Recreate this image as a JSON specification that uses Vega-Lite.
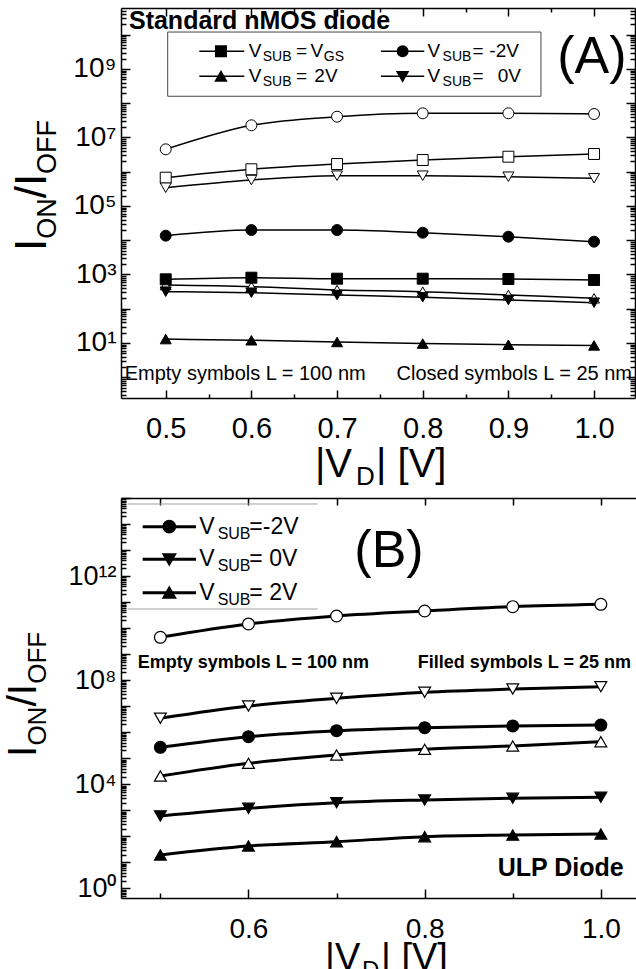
{
  "$schema": "https://vega.github.io/schema/vega-lite/v6.json",
  "padding": {"left": 2, "top": 7, "right": 0, "bottom": 0},
  "bounds": "flush",
  "spacing": 100,
  "config": {
    "view": {"stroke": null},
    "font": "Liberation Sans",
    "axis": {"grid": false, "domainColor": "black", "domainWidth": 1.5, "tickColor": "black", "tickWidth": 1.5, "labelColor": "black", "labelFont": "Liberation Sans", "labelFlush": false, "labelOverlap": false, "zindex": 1}
  },
  "datasets": {
    "pts": [
      {"p":"A","L":"100","vsub":"-2V","vd":0.5,"r":4.52e6},{"p":"A","L":"100","vsub":"-2V","vd":0.6,"r":2.27e7},{"p":"A","L":"100","vsub":"-2V","vd":0.7,"r":4.05e7},{"p":"A","L":"100","vsub":"-2V","vd":0.8,"r":5.09e7},{"p":"A","L":"100","vsub":"-2V","vd":0.9,"r":5.09e7},{"p":"A","L":"100","vsub":"-2V","vd":1.0,"r":4.85e7},
      {"p":"A","L":"100","vsub":"VGS","vd":0.5,"r":6.7e5},{"p":"A","L":"100","vsub":"VGS","vd":0.6,"r":1.18e6},{"p":"A","L":"100","vsub":"VGS","vd":0.7,"r":1.68e6},{"p":"A","L":"100","vsub":"VGS","vd":0.8,"r":2.2e6},{"p":"A","L":"100","vsub":"VGS","vd":0.9,"r":2.75e6},{"p":"A","L":"100","vsub":"VGS","vd":1.0,"r":3.3e6},
      {"p":"A","L":"100","vsub":"0V","vd":0.5,"r":3.42e5},{"p":"A","L":"100","vsub":"0V","vd":0.6,"r":5.74e5},{"p":"A","L":"100","vsub":"0V","vd":0.7,"r":7.67e5},{"p":"A","L":"100","vsub":"0V","vd":0.8,"r":7.67e5},{"p":"A","L":"100","vsub":"0V","vd":0.9,"r":7.16e5},{"p":"A","L":"100","vsub":"0V","vd":1.0,"r":6.44e5},
      {"p":"A","L":"100","vsub":"2V","vd":0.5,"r":493},{"p":"A","L":"100","vsub":"2V","vd":0.6,"r":441},{"p":"A","L":"100","vsub":"2V","vd":0.7,"r":352},{"p":"A","L":"100","vsub":"2V","vd":0.8,"r":315},{"p":"A","L":"100","vsub":"2V","vd":0.9,"r":252},{"p":"A","L":"100","vsub":"2V","vd":1.0,"r":202},
      {"p":"A","L":"25","vsub":"-2V","vd":0.5,"r":1.36e4},{"p":"A","L":"25","vsub":"-2V","vd":0.6,"r":1.99e4},{"p":"A","L":"25","vsub":"-2V","vd":0.7,"r":1.99e4},{"p":"A","L":"25","vsub":"-2V","vd":0.8,"r":1.66e4},{"p":"A","L":"25","vsub":"-2V","vd":0.9,"r":1.27e4},{"p":"A","L":"25","vsub":"-2V","vd":1.0,"r":9.08e3},
      {"p":"A","L":"25","vsub":"VGS","vd":0.5,"r":724},{"p":"A","L":"25","vsub":"VGS","vd":0.6,"r":807},{"p":"A","L":"25","vsub":"VGS","vd":0.7,"r":754},{"p":"A","L":"25","vsub":"VGS","vd":0.8,"r":754},{"p":"A","L":"25","vsub":"VGS","vd":0.9,"r":739},{"p":"A","L":"25","vsub":"VGS","vd":1.0,"r":690},
      {"p":"A","L":"25","vsub":"0V","vd":0.5,"r":315},{"p":"A","L":"25","vsub":"0V","vd":0.6,"r":294},{"p":"A","L":"25","vsub":"0V","vd":0.7,"r":252},{"p":"A","L":"25","vsub":"0V","vd":0.8,"r":216},{"p":"A","L":"25","vsub":"0V","vd":0.9,"r":180},{"p":"A","L":"25","vsub":"0V","vd":1.0,"r":150},
      {"p":"A","L":"25","vsub":"2V","vd":0.5,"r":13},{"p":"A","L":"25","vsub":"2V","vd":0.6,"r":12},{"p":"A","L":"25","vsub":"2V","vd":0.7,"r":10.7},{"p":"A","L":"25","vsub":"2V","vd":0.8,"r":9.6},{"p":"A","L":"25","vsub":"2V","vd":0.9,"r":8.9},{"p":"A","L":"25","vsub":"2V","vd":1.0,"r":8.5},
      {"p":"B","L":"100","vsub":"-2V","vd":0.5,"r":4.46e9},{"p":"B","L":"100","vsub":"-2V","vd":0.6,"r":1.45e10},{"p":"B","L":"100","vsub":"-2V","vd":0.7,"r":2.93e10},{"p":"B","L":"100","vsub":"-2V","vd":0.8,"r":4.56e10},{"p":"B","L":"100","vsub":"-2V","vd":0.9,"r":6.68e10},{"p":"B","L":"100","vsub":"-2V","vd":1.0,"r":8.26e10},
      {"p":"B","L":"100","vsub":"0V","vd":0.5,"r":3.45e6},{"p":"B","L":"100","vsub":"0V","vd":0.6,"r":1.02e7},{"p":"B","L":"100","vsub":"0V","vd":0.7,"r":2.02e7},{"p":"B","L":"100","vsub":"0V","vd":0.8,"r":3.44e7},{"p":"B","L":"100","vsub":"0V","vd":0.9,"r":4.6e7},{"p":"B","L":"100","vsub":"0V","vd":1.0,"r":5.64e7},
      {"p":"B","L":"100","vsub":"2V","vd":0.5,"r":2.09e4},{"p":"B","L":"100","vsub":"2V","vd":0.6,"r":6.44e4},{"p":"B","L":"100","vsub":"2V","vd":0.7,"r":1.34e5},{"p":"B","L":"100","vsub":"2V","vd":0.8,"r":2.22e5},{"p":"B","L":"100","vsub":"2V","vd":0.9,"r":2.98e5},{"p":"B","L":"100","vsub":"2V","vd":1.0,"r":4.35e5},
      {"p":"B","L":"25","vsub":"-2V","vd":0.5,"r":2.65e5},{"p":"B","L":"25","vsub":"-2V","vd":0.6,"r":6.78e5},{"p":"B","L":"25","vsub":"-2V","vd":0.7,"r":1.15e6},{"p":"B","L":"25","vsub":"-2V","vd":0.8,"r":1.5e6},{"p":"B","L":"25","vsub":"-2V","vd":0.9,"r":1.75e6},{"p":"B","L":"25","vsub":"-2V","vd":1.0,"r":1.9e6},
      {"p":"B","L":"25","vsub":"0V","vd":0.5,"r":610},{"p":"B","L":"25","vsub":"0V","vd":0.6,"r":1202},{"p":"B","L":"25","vsub":"0V","vd":0.7,"r":1977},{"p":"B","L":"25","vsub":"0V","vd":0.8,"r":2506},{"p":"B","L":"25","vsub":"0V","vd":0.9,"r":2917},{"p":"B","L":"25","vsub":"0V","vd":1.0,"r":3184},
      {"p":"B","L":"25","vsub":"2V","vd":0.5,"r":19.4},{"p":"B","L":"25","vsub":"2V","vd":0.6,"r":42.9},{"p":"B","L":"25","vsub":"2V","vd":0.7,"r":62.8},{"p":"B","L":"25","vsub":"2V","vd":0.8,"r":97.7},{"p":"B","L":"25","vsub":"2V","vd":0.9,"r":113},{"p":"B","L":"25","vsub":"2V","vd":1.0,"r":124}
    ],
    "annA": [
      {"k":"head","x":0.4571,"y":2.44e10,"t":"Standard nMOS diode"},
      {"k":"big","x":0.9974,"y":2.24e9,"t":"(A)"},
      {"k":"noteL","x":0.4521,"y":1.245,"t":"Empty symbols L = 100 nm"},
      {"k":"noteR","x":1.0443,"y":1.245,"t":"Closed symbols L = 25 nm"},
      {"k":"lg","x":0.5968,"y":3.29e9,"t":"V"},
      {"k":"lg","x":0.6520,"y":3.29e9,"t":"="},
      {"k":"lg","x":0.6690,"y":3.29e9,"t":"V"},
      {"k":"lg","x":0.5968,"y":6.12e8,"t":"V"},
      {"k":"lg","x":0.6520,"y":6.12e8,"t":"="},
      {"k":"lg","x":0.6735,"y":6.12e8,"t":"2V"},
      {"k":"lg","x":0.8057,"y":3.29e9,"t":"V"},
      {"k":"lg","x":0.8582,"y":3.29e9,"t":"="},
      {"k":"lg","x":0.8778,"y":3.29e9,"t":"-2V"},
      {"k":"lg","x":0.8057,"y":6.12e8,"t":"V"},
      {"k":"lg","x":0.8582,"y":6.12e8,"t":"="},
      {"k":"lg","x":0.8875,"y":6.12e8,"t":"0V"},
      {"k":"lgs","x":0.6132,"y":3.29e9,"t":"SUB"},
      {"k":"lgs","x":0.6846,"y":3.29e9,"t":"GS"},
      {"k":"lgs","x":0.6132,"y":6.12e8,"t":"SUB"},
      {"k":"lgs","x":0.8232,"y":3.29e9,"t":"SUB"},
      {"k":"lgs","x":0.8232,"y":6.12e8,"t":"SUB"},
      {"k":"yt","x":0.3603,"y":4853,"t":"I"},
      {"k":"yt","x":0.3603,"y":1.68e5,"t":"/I"},
      {"k":"yts","x":0.3603,"y":1.1e4,"t":"ON"},
      {"k":"yts","x":0.3603,"y":8.65e5,"t":"OFF"},
      {"k":"xt","x":0.6742,"y":1.225e-3,"t":"|V"},
      {"k":"xt","x":0.7455,"y":1.225e-3,"t":"| [V]"},
      {"k":"xts","x":0.7221,"y":1.225e-3,"t":"D"}
    ],
    "legA": [
      {"x":0.5392,"x2":0.5917,"xm":0.5645,"y":3.29e9,"vsub":"VGS"},
      {"x":0.5392,"x2":0.5917,"xm":0.5645,"y":6.12e8,"vsub":"2V"},
      {"x":0.7512,"x2":0.8018,"xm":0.7765,"y":3.29e9,"vsub":"-2V"},
      {"x":0.7512,"x2":0.8018,"xm":0.7765,"y":6.12e8,"vsub":"0V"}
    ],
    "boxA": [{"x":0.5023,"x2":0.9380,"y":1.2e10,"y2":1.6e8}],
    "annB": [
      {"k":"big","x":0.7595,"y":9.2e12,"t":"(B)"},
      {"k":"noteL","x":0.4743,"y":4.6e8,"t":"Empty symbols L = 100 nm"},
      {"k":"noteR","x":1.0342,"y":4.6e8,"t":"Filled symbols L = 25 nm"},
      {"k":"ulp","x":1.0259,"y":6.12,"t":"ULP Diode"},
      {"k":"lg","x":0.5442,"y":7.9e13,"t":"V"},
      {"k":"lg","x":0.6010,"y":7.9e13,"t":"=-2V"},
      {"k":"lg","x":0.5442,"y":4.42e12,"t":"V"},
      {"k":"lg","x":0.6010,"y":4.42e12,"t":"= 0V"},
      {"k":"lg","x":0.5442,"y":2.3e11,"t":"V"},
      {"k":"lg","x":0.6010,"y":2.3e11,"t":"= 2V"},
      {"k":"lgs","x":0.5650,"y":7.9e13,"t":"SUB"},
      {"k":"lgs","x":0.5650,"y":4.42e12,"t":"SUB"},
      {"k":"lgs","x":0.5650,"y":2.3e11,"t":"SUB"},
      {"k":"yt","x":0.3588,"y":1.12e5,"t":"I"},
      {"k":"yt","x":0.3588,"y":9.7e6,"t":"/I"},
      {"k":"yts","x":0.3588,"y":3.08e5,"t":"ON"},
      {"k":"yts","x":0.3588,"y":7.3e7,"t":"OFF"},
      {"k":"xt","x":0.6869,"y":7.4e-4,"t":"|V"},
      {"k":"xt","x":0.7504,"y":7.4e-4,"t":"| [V]"},
      {"k":"xts","x":0.7288,"y":7.4e-4,"t":"D"}
    ],
    "legB": [
      {"x":0.4799,"x2":0.5404,"xm":0.5101,"y":7.9e13,"vsub":"-2V"},
      {"x":0.4799,"x2":0.5404,"xm":0.5101,"y":4.42e12,"vsub":"0V"},
      {"x":0.4799,"x2":0.5404,"xm":0.5101,"y":2.3e11,"vsub":"2V"}
    ],
    "sepB": [
      {"x":0.4629,"x2":0.6786,"y":5.89e14},
      {"x":0.4629,"x2":0.6786,"y":5.44e10}
    ]
  },
  "vconcat": [
    {
      "width": 514,
      "height": 390,
      "resolve": {"axis": {"x": "independent", "y": "independent"}},
      "layer": [
        {
          "data": {"name": "pts"},
          "transform": [{"filter": "datum.p == 'A'"}],
          "mark": {"type": "line", "interpolate": "monotone", "color": "black", "strokeWidth": 1.5},
          "encoding": {
            "x": {"field": "vd", "type": "quantitative", "scale": {"domain": [0.4478, 1.0478], "nice": false, "zero": false},
              "axis": {"orient": "bottom", "title": null, "values": [0.5,0.55,0.6,0.65,0.7,0.75,0.8,0.85,0.9,0.95,1.0],
                "tickSize": {"condition": {"test": "abs(datum.value*10 - round(datum.value*10)) > 0.01", "value": -4}, "value": -8},
                "labelExpr": "abs(datum.value*10 - round(datum.value*10)) > 0.01 ? '' : format(datum.value, '.1f')",
                "labelFontSize": 29, "labelPadding": 24}},
            "y": {"field": "r", "type": "quantitative", "scale": {"type": "log", "domain": [0.2477, 6.04e10], "nice": false},
              "axis": {"orient": "left", "title": null,
                "values": [0.3,0.4,0.5,0.6,0.7,0.8,0.9,1,2,3,4,5,6,7,8,9,10,20,30,40,50,60,70,80,90,100,200,300,400,500,600,700,800,900,1e3,2e3,3e3,4e3,5e3,6e3,7e3,8e3,9e3,1e4,2e4,3e4,4e4,5e4,6e4,7e4,8e4,9e4,1e5,2e5,3e5,4e5,5e5,6e5,7e5,8e5,9e5,1e6,2e6,3e6,4e6,5e6,6e6,7e6,8e6,9e6,1e7,2e7,3e7,4e7,5e7,6e7,7e7,8e7,9e7,1e8,2e8,3e8,4e8,5e8,6e8,7e8,8e8,9e8,1e9,2e9,3e9,4e9,5e9,6e9,7e9,8e9,9e9,1e10,2e10,3e10,4e10,5e10],
                "tickSize": {"condition": {"test": "abs(log(datum.value)/LN10 - round(log(datum.value)/LN10)) > 1e-6", "value": -5}, "value": -9},
                "labelExpr": "abs(log(datum.value)/LN10 - round(log(datum.value)/LN10)) < 1e-6 && round(log(datum.value)/LN10) % 2 == 1 ? '10' + substring('⁰¹²³⁴⁵⁶⁷⁸⁹', round(log(datum.value)/LN10), round(log(datum.value)/LN10) + 1) : ''",
                "labelFontSize": {"condition": {"test": "abs(log(datum.value)/LN10 - round(log(datum.value)/LN10)) < 1e-6 && round(log(datum.value)/LN10) % 2 == 1", "value": 28}, "value": 1},
                "labelPadding": 14}},
            "detail": [{"field": "vsub"}, {"field": "L"}]
          }
        },
        {
          "data": {"name": "pts"},
          "transform": [{"filter": "datum.p == 'A'"}],
          "mark": {"type": "point", "filled": true, "size": 120, "stroke": "black", "strokeWidth": 1, "opacity": 1},
          "encoding": {
            "x": {"field": "vd", "type": "quantitative", "scale": {"domain": [0.4478, 1.0478], "nice": false, "zero": false},
              "axis": {"orient": "top", "title": null, "labels": false, "values": [0.5,0.55,0.6,0.65,0.7,0.75,0.8,0.85,0.9,0.95,1.0],
                "tickSize": {"condition": {"test": "abs(datum.value*10 - round(datum.value*10)) > 0.01", "value": -4}, "value": -8}}},
            "y": {"field": "r", "type": "quantitative", "scale": {"type": "log", "domain": [0.2477, 6.04e10], "nice": false},
              "axis": {"orient": "right", "title": null, "labels": false,
                "values": [0.3,0.4,0.5,0.6,0.7,0.8,0.9,1,2,3,4,5,6,7,8,9,10,20,30,40,50,60,70,80,90,100,200,300,400,500,600,700,800,900,1e3,2e3,3e3,4e3,5e3,6e3,7e3,8e3,9e3,1e4,2e4,3e4,4e4,5e4,6e4,7e4,8e4,9e4,1e5,2e5,3e5,4e5,5e5,6e5,7e5,8e5,9e5,1e6,2e6,3e6,4e6,5e6,6e6,7e6,8e6,9e6,1e7,2e7,3e7,4e7,5e7,6e7,7e7,8e7,9e7,1e8,2e8,3e8,4e8,5e8,6e8,7e8,8e8,9e8,1e9,2e9,3e9,4e9,5e9,6e9,7e9,8e9,9e9,1e10,2e10,3e10,4e10,5e10],
                "tickSize": {"condition": {"test": "abs(log(datum.value)/LN10 - round(log(datum.value)/LN10)) > 1e-6", "value": -5}, "value": -9}}},
            "shape": {"field": "vsub", "type": "nominal", "scale": {"domain": ["VGS","-2V","2V","0V"], "range": ["square","circle","triangle-up","triangle-down"]}, "legend": null},
            "fill": {"field": "L", "type": "nominal", "scale": {"domain": ["25","100"], "range": ["black","white"]}, "legend": null}
          }
        },
        {
          "data": {"name": "boxA"},
          "mark": {"type": "rect", "fill": "white", "fillOpacity": 0, "stroke": "#444444", "strokeWidth": 1},
          "encoding": {
            "x": {"field": "x", "type": "quantitative", "scale": {"domain": [0.4478, 1.0478], "nice": false, "zero": false}, "axis": null},
            "x2": {"field": "x2"},
            "y": {"field": "y", "type": "quantitative", "scale": {"type": "log", "domain": [0.2477, 6.04e10], "nice": false}, "axis": null},
            "y2": {"field": "y2"}
          }
        },
        {
          "data": {"name": "legA"},
          "mark": {"type": "rule", "color": "black", "strokeWidth": 1.5},
          "encoding": {
            "x": {"field": "x", "type": "quantitative", "scale": {"domain": [0.4478, 1.0478], "nice": false, "zero": false}, "axis": null},
            "x2": {"field": "x2"},
            "y": {"field": "y", "type": "quantitative", "scale": {"type": "log", "domain": [0.2477, 6.04e10], "nice": false}, "axis": null}
          }
        },
        {
          "data": {"name": "legA"},
          "mark": {"type": "point", "filled": true, "fill": "black", "stroke": "black", "size": 100, "opacity": 1},
          "encoding": {
            "x": {"field": "xm", "type": "quantitative", "scale": {"domain": [0.4478, 1.0478], "nice": false, "zero": false}, "axis": null},
            "y": {"field": "y", "type": "quantitative", "scale": {"type": "log", "domain": [0.2477, 6.04e10], "nice": false}, "axis": null},
            "shape": {"field": "vsub", "type": "nominal", "scale": {"domain": ["VGS","-2V","2V","0V"], "range": ["square","circle","triangle-up","triangle-down"]}, "legend": null}
          }
        },
        {
          "data": {"name": "annA"},
          "transform": [{"filter": "datum.k == 'head'"}],
          "mark": {"type": "text", "align": "left", "baseline": "middle", "fontSize": 25, "fontWeight": "bold", "font": "Liberation Sans", "color": "black"},
          "encoding": {
            "x": {"field": "x", "type": "quantitative", "scale": {"domain": [0.4478, 1.0478], "nice": false, "zero": false}, "axis": null},
            "y": {"field": "y", "type": "quantitative", "scale": {"type": "log", "domain": [0.2477, 6.04e10], "nice": false}, "axis": null},
            "text": {"field": "t"}
          }
        },
        {
          "data": {"name": "annA"},
          "transform": [{"filter": "datum.k == 'big'"}],
          "mark": {"type": "text", "align": "center", "baseline": "middle", "fontSize": 52, "font": "Liberation Sans", "color": "black"},
          "encoding": {
            "x": {"field": "x", "type": "quantitative", "scale": {"domain": [0.4478, 1.0478], "nice": false, "zero": false}, "axis": null},
            "y": {"field": "y", "type": "quantitative", "scale": {"type": "log", "domain": [0.2477, 6.04e10], "nice": false}, "axis": null},
            "text": {"field": "t"}
          }
        },
        {
          "data": {"name": "annA"},
          "transform": [{"filter": "datum.k == 'noteL'"}],
          "mark": {"type": "text", "align": "left", "baseline": "middle", "fontSize": 20, "font": "Liberation Sans", "color": "black"},
          "encoding": {
            "x": {"field": "x", "type": "quantitative", "scale": {"domain": [0.4478, 1.0478], "nice": false, "zero": false}, "axis": null},
            "y": {"field": "y", "type": "quantitative", "scale": {"type": "log", "domain": [0.2477, 6.04e10], "nice": false}, "axis": null},
            "text": {"field": "t"}
          }
        },
        {
          "data": {"name": "annA"},
          "transform": [{"filter": "datum.k == 'noteR'"}],
          "mark": {"type": "text", "align": "right", "baseline": "middle", "fontSize": 20, "font": "Liberation Sans", "color": "black"},
          "encoding": {
            "x": {"field": "x", "type": "quantitative", "scale": {"domain": [0.4478, 1.0478], "nice": false, "zero": false}, "axis": null},
            "y": {"field": "y", "type": "quantitative", "scale": {"type": "log", "domain": [0.2477, 6.04e10], "nice": false}, "axis": null},
            "text": {"field": "t"}
          }
        },
        {
          "data": {"name": "annA"},
          "transform": [{"filter": "datum.k == 'lg'"}],
          "mark": {"type": "text", "align": "left", "baseline": "middle", "fontSize": 19, "font": "Liberation Sans", "color": "black"},
          "encoding": {
            "x": {"field": "x", "type": "quantitative", "scale": {"domain": [0.4478, 1.0478], "nice": false, "zero": false}, "axis": null},
            "y": {"field": "y", "type": "quantitative", "scale": {"type": "log", "domain": [0.2477, 6.04e10], "nice": false}, "axis": null},
            "text": {"field": "t"}
          }
        },
        {
          "data": {"name": "annA"},
          "transform": [{"filter": "datum.k == 'lgs'"}],
          "mark": {"type": "text", "align": "left", "baseline": "middle", "fontSize": 14, "dy": 6, "font": "Liberation Sans", "color": "black"},
          "encoding": {
            "x": {"field": "x", "type": "quantitative", "scale": {"domain": [0.4478, 1.0478], "nice": false, "zero": false}, "axis": null},
            "y": {"field": "y", "type": "quantitative", "scale": {"type": "log", "domain": [0.2477, 6.04e10], "nice": false}, "axis": null},
            "text": {"field": "t"}
          }
        },
        {
          "data": {"name": "annA"},
          "transform": [{"filter": "datum.k == 'yt'"}],
          "mark": {"type": "text", "align": "left", "baseline": "alphabetic", "angle": 270, "fontSize": 44, "font": "Liberation Sans", "color": "black"},
          "encoding": {
            "x": {"field": "x", "type": "quantitative", "scale": {"domain": [0.4478, 1.0478], "nice": false, "zero": false}, "axis": null},
            "y": {"field": "y", "type": "quantitative", "scale": {"type": "log", "domain": [0.2477, 6.04e10], "nice": false}, "axis": null},
            "text": {"field": "t"}
          }
        },
        {
          "data": {"name": "annA"},
          "transform": [{"filter": "datum.k == 'yts'"}],
          "mark": {"type": "text", "align": "left", "baseline": "alphabetic", "angle": 270, "fontSize": 27, "dy": 10, "font": "Liberation Sans", "color": "black"},
          "encoding": {
            "x": {"field": "x", "type": "quantitative", "scale": {"domain": [0.4478, 1.0478], "nice": false, "zero": false}, "axis": null},
            "y": {"field": "y", "type": "quantitative", "scale": {"type": "log", "domain": [0.2477, 6.04e10], "nice": false}, "axis": null},
            "text": {"field": "t"}
          }
        },
        {
          "data": {"name": "annA"},
          "transform": [{"filter": "datum.k == 'xt'"}],
          "mark": {"type": "text", "align": "left", "baseline": "alphabetic", "fontSize": 40, "font": "Liberation Sans", "color": "black"},
          "encoding": {
            "x": {"field": "x", "type": "quantitative", "scale": {"domain": [0.4478, 1.0478], "nice": false, "zero": false}, "axis": null},
            "y": {"field": "y", "type": "quantitative", "scale": {"type": "log", "domain": [0.2477, 6.04e10], "nice": false}, "axis": null},
            "text": {"field": "t"}
          }
        },
        {
          "data": {"name": "annA"},
          "transform": [{"filter": "datum.k == 'xts'"}],
          "mark": {"type": "text", "align": "left", "baseline": "alphabetic", "fontSize": 26, "dy": 8, "font": "Liberation Sans", "color": "black"},
          "encoding": {
            "x": {"field": "x", "type": "quantitative", "scale": {"domain": [0.4478, 1.0478], "nice": false, "zero": false}, "axis": null},
            "y": {"field": "y", "type": "quantitative", "scale": {"type": "log", "domain": [0.2477, 6.04e10], "nice": false}, "axis": null},
            "text": {"field": "t"}
          }
        }
      ]
    },
    {
      "width": 515,
      "height": 400,
      "resolve": {"axis": {"x": "independent", "y": "independent"}},
      "layer": [
        {
          "data": {"name": "pts"},
          "transform": [{"filter": "datum.p == 'B'"}],
          "mark": {"type": "line", "interpolate": "monotone", "color": "black", "strokeWidth": 3},
          "encoding": {
            "x": {"field": "vd", "type": "quantitative", "scale": {"domain": [0.4553, 1.0399], "nice": false, "zero": false},
              "axis": {"orient": "bottom", "title": null, "values": [0.5,0.6,0.7,0.8,0.9,1.0],
                "tickSize": {"condition": {"test": "abs(datum.value*5 - round(datum.value*5)) > 0.01", "value": -5}, "value": -9},
                "labelExpr": "abs(datum.value*5 - round(datum.value*5)) > 0.01 ? '' : format(datum.value, '.1f')",
                "labelFontSize": 28, "labelPadding": 26}},
            "y": {"field": "r", "type": "quantitative", "scale": {"type": "log", "domain": [0.431, 1e15], "nice": false},
              "axis": {"orient": "left", "title": null,
                "values": [0.5,0.6,0.7,0.8,0.9,1,2,3,4,5,6,7,8,9,10,20,30,40,50,60,70,80,90,100,200,300,400,500,600,700,800,900,1e3,2e3,3e3,4e3,5e3,6e3,7e3,8e3,9e3,1e4,2e4,3e4,4e4,5e4,6e4,7e4,8e4,9e4,1e5,2e5,3e5,4e5,5e5,6e5,7e5,8e5,9e5,1e6,2e6,3e6,4e6,5e6,6e6,7e6,8e6,9e6,1e7,2e7,3e7,4e7,5e7,6e7,7e7,8e7,9e7,1e8,2e8,3e8,4e8,5e8,6e8,7e8,8e8,9e8,1e9,2e9,3e9,4e9,5e9,6e9,7e9,8e9,9e9,1e10,2e10,3e10,4e10,5e10,6e10,7e10,8e10,9e10,1e11,2e11,3e11,4e11,5e11,6e11,7e11,8e11,9e11,1e12,2e12,3e12,4e12,5e12,6e12,7e12,8e12,9e12,1e13,2e13,3e13,4e13,5e13,6e13,7e13,8e13,9e13,1e14,2e14,3e14,4e14,5e14,6e14,7e14,8e14,9e14,1e15],
                "tickSize": {"condition": {"test": "abs(log(datum.value)/LN10 - round(log(datum.value)/LN10)) > 1e-6", "value": -5}, "value": -9},
                "labelExpr": "abs(log(datum.value)/LN10 - round(log(datum.value)/LN10)) < 1e-6 && round(log(datum.value)/LN10) % 4 == 0 ? '10' + (round(log(datum.value)/LN10) == 12 ? '¹²' : substring('⁰¹²³⁴⁵⁶⁷⁸⁹', round(log(datum.value)/LN10), round(log(datum.value)/LN10) + 1)) : ''",
                "labelFontSize": {"condition": {"test": "abs(log(datum.value)/LN10 - round(log(datum.value)/LN10)) < 1e-6 && round(log(datum.value)/LN10) % 4 == 0", "value": 27}, "value": 1},
                "labelPadding": 14}},
            "detail": [{"field": "vsub"}, {"field": "L"}]
          }
        },
        {
          "data": {"name": "pts"},
          "transform": [{"filter": "datum.p == 'B'"}],
          "mark": {"type": "point", "filled": true, "size": 140, "stroke": "black", "strokeWidth": 1.2, "opacity": 1},
          "encoding": {
            "x": {"field": "vd", "type": "quantitative", "scale": {"domain": [0.4553, 1.0399], "nice": false, "zero": false},
              "axis": {"orient": "top", "title": null, "labels": false, "values": [0.5,0.6,0.7,0.8,0.9,1.0], "tickSize": -7}},
            "y": {"field": "r", "type": "quantitative", "scale": {"type": "log", "domain": [0.431, 1e15], "nice": false}, "axis": null},
            "shape": {"field": "vsub", "type": "nominal", "scale": {"domain": ["VGS","-2V","2V","0V"], "range": ["square","circle","triangle-up","triangle-down"]}, "legend": null},
            "fill": {"field": "L", "type": "nominal", "scale": {"domain": ["25","100"], "range": ["black","white"]}, "legend": null}
          }
        },
        {
          "data": {"name": "sepB"},
          "mark": {"type": "rule", "color": "#a0a0a0", "strokeWidth": 1},
          "encoding": {
            "x": {"field": "x", "type": "quantitative", "scale": {"domain": [0.4553, 1.0399], "nice": false, "zero": false}, "axis": null},
            "x2": {"field": "x2"},
            "y": {"field": "y", "type": "quantitative", "scale": {"type": "log", "domain": [0.431, 1e15], "nice": false}, "axis": null}
          }
        },
        {
          "data": {"name": "legB"},
          "mark": {"type": "rule", "color": "black", "strokeWidth": 3},
          "encoding": {
            "x": {"field": "x", "type": "quantitative", "scale": {"domain": [0.4553, 1.0399], "nice": false, "zero": false}, "axis": null},
            "x2": {"field": "x2"},
            "y": {"field": "y", "type": "quantitative", "scale": {"type": "log", "domain": [0.431, 1e15], "nice": false}, "axis": null}
          }
        },
        {
          "data": {"name": "legB"},
          "mark": {"type": "point", "filled": true, "fill": "black", "stroke": "black", "size": 140, "opacity": 1},
          "encoding": {
            "x": {"field": "xm", "type": "quantitative", "scale": {"domain": [0.4553, 1.0399], "nice": false, "zero": false}, "axis": null},
            "y": {"field": "y", "type": "quantitative", "scale": {"type": "log", "domain": [0.431, 1e15], "nice": false}, "axis": null},
            "shape": {"field": "vsub", "type": "nominal", "scale": {"domain": ["VGS","-2V","2V","0V"], "range": ["square","circle","triangle-up","triangle-down"]}, "legend": null}
          }
        },
        {
          "data": {"name": "annB"},
          "transform": [{"filter": "datum.k == 'big'"}],
          "mark": {"type": "text", "align": "center", "baseline": "middle", "fontSize": 52, "font": "Liberation Sans", "color": "black"},
          "encoding": {
            "x": {"field": "x", "type": "quantitative", "scale": {"domain": [0.4553, 1.0399], "nice": false, "zero": false}, "axis": null},
            "y": {"field": "y", "type": "quantitative", "scale": {"type": "log", "domain": [0.431, 1e15], "nice": false}, "axis": null},
            "text": {"field": "t"}
          }
        },
        {
          "data": {"name": "annB"},
          "transform": [{"filter": "datum.k == 'noteL'"}],
          "mark": {"type": "text", "align": "left", "baseline": "middle", "fontSize": 18, "fontWeight": "bold", "font": "Liberation Sans", "color": "black"},
          "encoding": {
            "x": {"field": "x", "type": "quantitative", "scale": {"domain": [0.4553, 1.0399], "nice": false, "zero": false}, "axis": null},
            "y": {"field": "y", "type": "quantitative", "scale": {"type": "log", "domain": [0.431, 1e15], "nice": false}, "axis": null},
            "text": {"field": "t"}
          }
        },
        {
          "data": {"name": "annB"},
          "transform": [{"filter": "datum.k == 'noteR'"}],
          "mark": {"type": "text", "align": "right", "baseline": "middle", "fontSize": 18, "fontWeight": "bold", "font": "Liberation Sans", "color": "black"},
          "encoding": {
            "x": {"field": "x", "type": "quantitative", "scale": {"domain": [0.4553, 1.0399], "nice": false, "zero": false}, "axis": null},
            "y": {"field": "y", "type": "quantitative", "scale": {"type": "log", "domain": [0.431, 1e15], "nice": false}, "axis": null},
            "text": {"field": "t"}
          }
        },
        {
          "data": {"name": "annB"},
          "transform": [{"filter": "datum.k == 'ulp'"}],
          "mark": {"type": "text", "align": "right", "baseline": "middle", "fontSize": 25, "fontWeight": "bold", "font": "Liberation Sans", "color": "black"},
          "encoding": {
            "x": {"field": "x", "type": "quantitative", "scale": {"domain": [0.4553, 1.0399], "nice": false, "zero": false}, "axis": null},
            "y": {"field": "y", "type": "quantitative", "scale": {"type": "log", "domain": [0.431, 1e15], "nice": false}, "axis": null},
            "text": {"field": "t"}
          }
        },
        {
          "data": {"name": "annB"},
          "transform": [{"filter": "datum.k == 'lg'"}],
          "mark": {"type": "text", "align": "left", "baseline": "middle", "fontSize": 23, "font": "Liberation Sans", "color": "black"},
          "encoding": {
            "x": {"field": "x", "type": "quantitative", "scale": {"domain": [0.4553, 1.0399], "nice": false, "zero": false}, "axis": null},
            "y": {"field": "y", "type": "quantitative", "scale": {"type": "log", "domain": [0.431, 1e15], "nice": false}, "axis": null},
            "text": {"field": "t"}
          }
        },
        {
          "data": {"name": "annB"},
          "transform": [{"filter": "datum.k == 'lgs'"}],
          "mark": {"type": "text", "align": "left", "baseline": "middle", "fontSize": 16, "dy": 7, "font": "Liberation Sans", "color": "black"},
          "encoding": {
            "x": {"field": "x", "type": "quantitative", "scale": {"domain": [0.4553, 1.0399], "nice": false, "zero": false}, "axis": null},
            "y": {"field": "y", "type": "quantitative", "scale": {"type": "log", "domain": [0.431, 1e15], "nice": false}, "axis": null},
            "text": {"field": "t"}
          }
        },
        {
          "data": {"name": "annB"},
          "transform": [{"filter": "datum.k == 'yt'"}],
          "mark": {"type": "text", "align": "left", "baseline": "alphabetic", "angle": 270, "fontSize": 41, "font": "Liberation Sans", "color": "black"},
          "encoding": {
            "x": {"field": "x", "type": "quantitative", "scale": {"domain": [0.4553, 1.0399], "nice": false, "zero": false}, "axis": null},
            "y": {"field": "y", "type": "quantitative", "scale": {"type": "log", "domain": [0.431, 1e15], "nice": false}, "axis": null},
            "text": {"field": "t"}
          }
        },
        {
          "data": {"name": "annB"},
          "transform": [{"filter": "datum.k == 'yts'"}],
          "mark": {"type": "text", "align": "left", "baseline": "alphabetic", "angle": 270, "fontSize": 26, "dy": 10, "font": "Liberation Sans", "color": "black"},
          "encoding": {
            "x": {"field": "x", "type": "quantitative", "scale": {"domain": [0.4553, 1.0399], "nice": false, "zero": false}, "axis": null},
            "y": {"field": "y", "type": "quantitative", "scale": {"type": "log", "domain": [0.431, 1e15], "nice": false}, "axis": null},
            "text": {"field": "t"}
          }
        },
        {
          "data": {"name": "annB"},
          "transform": [{"filter": "datum.k == 'xt'"}],
          "mark": {"type": "text", "align": "left", "baseline": "alphabetic", "fontSize": 38, "font": "Liberation Sans", "color": "black"},
          "encoding": {
            "x": {"field": "x", "type": "quantitative", "scale": {"domain": [0.4553, 1.0399], "nice": false, "zero": false}, "axis": null},
            "y": {"field": "y", "type": "quantitative", "scale": {"type": "log", "domain": [0.431, 1e15], "nice": false}, "axis": null},
            "text": {"field": "t"}
          }
        },
        {
          "data": {"name": "annB"},
          "transform": [{"filter": "datum.k == 'xts'"}],
          "mark": {"type": "text", "align": "left", "baseline": "alphabetic", "fontSize": 24, "dy": 8, "font": "Liberation Sans", "color": "black"},
          "encoding": {
            "x": {"field": "x", "type": "quantitative", "scale": {"domain": [0.4553, 1.0399], "nice": false, "zero": false}, "axis": null},
            "y": {"field": "y", "type": "quantitative", "scale": {"type": "log", "domain": [0.431, 1e15], "nice": false}, "axis": null},
            "text": {"field": "t"}
          }
        }
      ]
    }
  ]
}
